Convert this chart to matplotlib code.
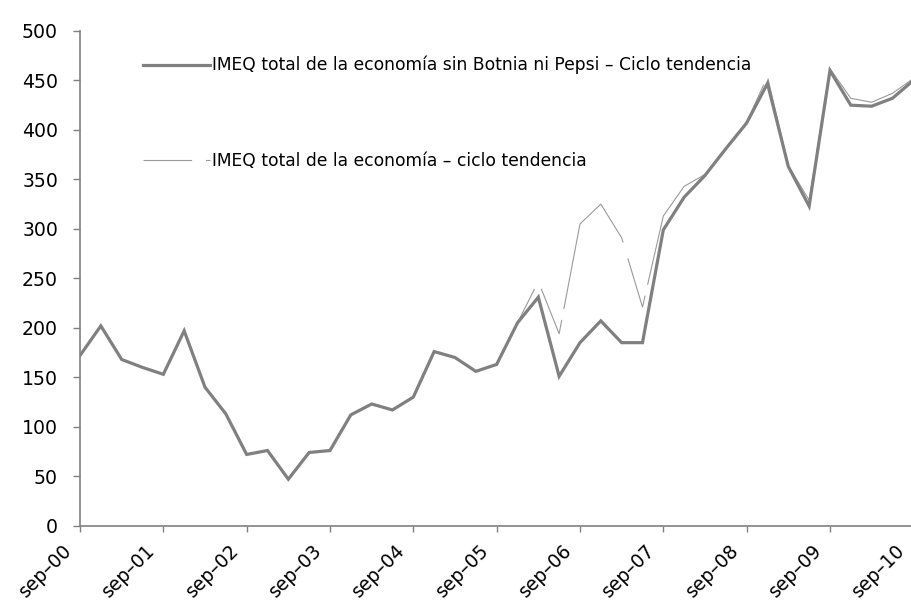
import matplotlib
matplotlib.use("Agg")
import matplotlib.pyplot as plt
import matplotlib.transforms as mtransforms
from matplotlib.lines import Line2D
import numpy as np

plt.rcParams['font.family'] = ['DejaVu Sans']
plt.rcParams['lines.scale_dashes'] = False

# quarterly data, sep-00 .. sep-10
years = ["00", "01", "02", "03", "04", "05", "06", "07", "08", "09", "10"]
tick_labels = ["sep\u2013" + y for y in years]

sin_botnia = [172, 202, 168, 160, 153, 197, 140, 113, 72, 76,
              47, 74, 76, 112, 123, 117, 130, 176, 170, 156,
              163, 205, 231, 151, 185, 207, 185, 185, 299, 332,
              354, 381, 407, 447, 363, 323, 460, 425, 424, 432,
              450]
total = [172, 202, 168, 160, 153, 197, 140, 113, 72, 76,
         47, 74, 76, 112, 123, 117, 130, 176, 170, 156,
         163, 205, 247, 194, 305, 325, 291, 221, 313, 343,
         355, 382, 408, 454, 364, 329, 462, 432, 428, 437,
         452]

label_a = "IMEQ total de la econom\u00eda sin Botnia ni Pepsi \u2013 Ciclo tendencia"
label_b = "IMEQ total de la econom\u00eda \u2013 ciclo tendencia"

fig = plt.figure(figsize=(9.12, 6.10), dpi=100)
ax = fig.add_axes([80/912, (610-525.7)/610, (913.3-80)/912, (525.7-31)/610])

x = np.arange(len(sin_botnia))
l1, = ax.plot(x, sin_botnia, color="#808080", linewidth=2.3, zorder=3,
              solid_joinstyle="miter", label=label_a)
l2, = ax.plot(x, total, color="#9a9a9a", linewidth=0.8, zorder=2,
              dashes=(45, 8, 115, 12), label=label_b)

ax.set_xlim(0, 40)
ax.set_ylim(0, 500)
ax.set_yticks(np.arange(0, 501, 50))
ax.set_xticks(np.arange(0, 41, 4))
ax.set_xticklabels(tick_labels, rotation=45, ha="right", va="center",
                   rotation_mode="anchor")

for side in ["top", "right"]:
    ax.spines[side].set_visible(False)
for side in ["left", "bottom"]:
    ax.spines[side].set_color("#808080")
    ax.spines[side].set_linewidth(1.2)
ax.tick_params(axis="y", direction="out", length=5.3, width=1, color="#808080",
               labelsize=13.6, pad=10.5)
ax.tick_params(axis="x", direction="out", length=4.5, width=1, color="#808080",
               labelsize=13.5, pad=11)

shift = mtransforms.ScaledTranslation(-11/100, 0, fig.dpi_scale_trans)
for lab in ax.get_xticklabels():
    lab.set_transform(lab.get_transform() + shift)

# legend handles (thin one with its own dash pattern)
h1 = Line2D([], [], color="#808080", linewidth=2.3)
h2 = Line2D([], [], color="#9a9a9a", linewidth=0.8, dashes=(35, 10))
leg = ax.legend(handles=[h1, h2], labels=[label_a, label_b], loc="upper left",
                bbox_to_anchor=(143/912, 1 - 56/610), bbox_transform=fig.transFigure,
                frameon=False, fontsize=12.3, handlelength=3.9, handletextpad=0.12,
                labelspacing=4.55, borderpad=0, borderaxespad=0)

fig.savefig("out.png", dpi=100)
